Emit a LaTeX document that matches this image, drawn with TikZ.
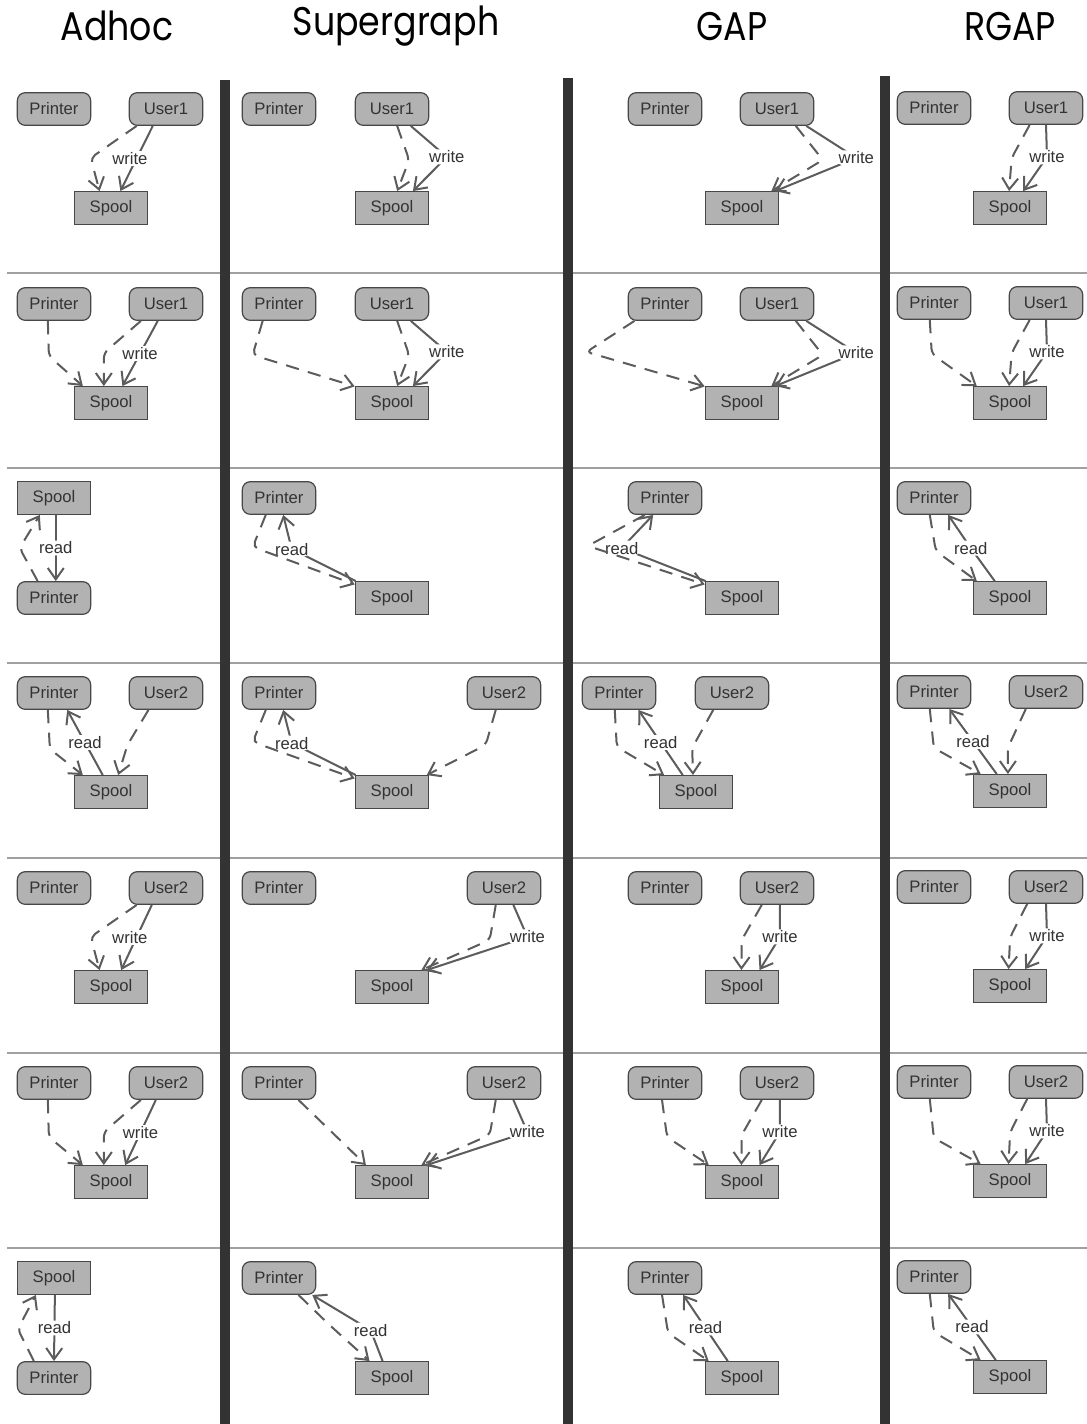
\documentclass[tikz,border=0pt]{standalone}
\usepackage{fontspec}
\setmainfont{Liberation Sans}
\newfontfamily\headfont[FakeStretch=0.87]{Poppins}
\usepackage{tikz}
\usetikzlibrary{arrows.meta}
\definecolor{nodeGray}{RGB}{178,178,178}
\definecolor{edgeGray}{RGB}{92,92,92}
\definecolor{ruleGray}{RGB}{160,160,160}
\definecolor{barDark}{RGB}{51,51,51}

\begin{document}
\begin{tikzpicture}[
  x=0.75pt,y=0.75pt,
  every node/.style={font=\fontsize{12.5}{14}\selectfont,text=black!80},
  proc/.style={draw=black!72,fill=nodeGray,rounded corners=6pt,minimum width=55pt,minimum height=24.5pt,line width=0.9pt,inner sep=0pt},
  buf/.style={proc,sharp corners},
  flow/.style={-{Straight Barb[length=8.5pt,width=12pt]},line width=1.5pt,draw=edgeGray,rounded corners=4pt},
  maybe/.style={flow,dash pattern=on 10pt off 7pt},
  lab/.style={fill=white,inner sep=1pt},
  head/.style={font=\headfont\fontsize{30}{32}\selectfont,text=black,anchor=base},
  rule/.style={draw=ruleGray,line width=1.2pt}
]
  \useasboundingbox (0,0) rectangle (1087,-1424);

  \node[head] (hAd) at (117,-40) {Adhoc};
  \node[head] (hSu) at (396,-36) {Supergraph};
  \node[head] (hGa) at (732,-40) {GAP};
  \node[head] (hRg) at (1010,-40) {RGAP};

  \foreach \y in {273,468,663,858,1053,1248}
    \draw[rule] (7,-\y) -- (1087,-\y);
  \fill[barDark] (220,-80) rectangle (230,-1424);
  \fill[barDark] (563,-78) rectangle (573,-1424);
  \fill[barDark] (880,-76) rectangle (890,-1424);

  % row 1
  \node[proc] (p11) at (54,-109) {Printer};
  \node[proc] (u11) at (166,-109) {User1};
  \node[buf]  (s11) at (111,-208) {Spool};
  \draw[flow] (u11.-128) -- node[lab,xshift=-5pt]{write} (s11.61);
  \draw[maybe] (u11.-150) -- ++(-46,-32) -- (s11.124);

  \node[proc] (p12) at (279,-109) {Printer};
  \node[proc] (u12) at (392,-109) {User1};
  \node[buf]  (s12) at (392,-208) {Spool};
  \draw[flow] (u12.-42) -- ++(36,-31) node[lab]{write} -- (s12.39);
  \draw[maybe] (u12.-73) -- ++(12,-34) -- (s12.73);

  \node[proc] (p13) at (665,-109) {Printer};
  \node[proc] (u13) at (777,-109) {User1};
  \node[buf]  (s13) at (742,-208) {Spool};
  \draw[flow] (u13.-30) -- ++(50,-32) node[lab]{write} -- (s13.27);
  \draw[maybe] (u13.-42) -- ++(27,-34) -- (s13.30);

  \node[proc] (p14) at (934,-108) {Printer};
  \node[proc] (u14) at (1046,-108) {User1};
  \node[buf]  (s14) at (1010,-208) {Spool};
  \draw[flow] (u14.-90) -- ++(1,-32) node[lab]{write} -- (s14.52);
  \draw[maybe] (u14.-134) -- ++(-18,-33) -- (s14.93);

  % row 2
  \node[proc] (p21) at (54,-304) {Printer};
  \node[proc] (u21) at (166,-304) {User1};
  \node[buf]  (s21) at (111,-403) {Spool};
  \draw[flow] (u21.-116) -- node[lab]{write} (s21.56);
  \draw[maybe] (u21.-146) -- ++(-37,-32) -- (s21.113);
  \draw[maybe] (p21.-110) -- ++(1,-35) -- (s21.149);

  \node[proc] (p22) at (279,-304) {Printer};
  \node[proc] (u22) at (392,-304) {User1};
  \node[buf]  (s22) at (392,-403) {Spool};
  \draw[flow] (u22.-42) -- ++(36,-31) node[lab]{write} -- (s22.39);
  \draw[maybe] (u22.-73) -- ++(12,-34) -- (s22.73);
  \draw[maybe] (p22.-134) -- ++(-10,-34) -- (s22.156);

  \node[proc] (p23) at (665,-304) {Printer};
  \node[proc] (u23) at (777,-304) {User1};
  \node[buf]  (s23) at (742,-403) {Spool};
  \draw[flow] (u23.-30) -- ++(50,-32) node[lab]{write} -- (s23.27);
  \draw[maybe] (u23.-42) -- ++(27,-34) -- (s23.30);
  \draw[maybe] (p23.-151) -- ++(-48,-31) -- (s23.156);

  \node[proc] (p24) at (934,-303) {Printer};
  \node[proc] (u24) at (1046,-303) {User1};
  \node[buf]  (s24) at (1010,-403) {Spool};
  \draw[flow] (u24.-90) -- ++(1,-32) node[lab]{write} -- (s24.52);
  \draw[maybe] (u24.-134) -- ++(-18,-33) -- (s24.93);
  \draw[maybe] (p24.-104) -- ++(2,-34) -- (s24.153);

  % row 3
  \node[buf]  (s31) at (54,-498) {Spool};
  \node[proc] (p31) at (54,-598) {Printer};
  \draw[flow] (s31.-84) -- node[lab]{read} (p31.84);
  \draw[maybe] (p31.134) -- ++(-18,33) -- (s31.-130);

  \node[proc] (p32) at (279,-498) {Printer};
  \node[buf]  (s32) at (392,-598) {Spool};
  \draw[flow] (s32.155) -- ++(-64,32) node[lab]{read} -- (p32.-76);
  \draw[maybe] (p32.-128) -- ++(-13,-32) -- (s32.160);

  \node[proc] (p33) at (665,-498) {Printer};
  \node[buf]  (s33) at (742,-598) {Spool};
  \draw[flow] (s33.155) -- ++(-84,33) node[lab]{read} -- (p33.-125);
  \draw[maybe] (p33.-140) -- ++(-57,-31) -- (s33.160);

  \node[proc] (p34) at (934,-498) {Printer};
  \node[buf]  (s34) at (1010,-598) {Spool};
  \draw[flow] (s34.132) -- ++(-24,33) node[lab]{read} -- (p34.-50);
  \draw[maybe] (p34.-104) -- ++(6,-36) -- (s34.153);

  % row 4
  \node[proc] (p41) at (54,-693) {Printer};
  \node[proc] (u41) at (166,-693) {User2};
  \node[buf]  (s41) at (111,-792) {Spool};
  \draw[flow] (s41.116) -- node[lab]{read} (p41.-52);
  \draw[maybe] (p41.-110) -- ++(2,-39) -- (s41.149);
  \draw[maybe] (u41.-136) -- ++(-21,-35) -- (s41.67);

  \node[proc] (p42) at (279,-693) {Printer};
  \node[proc] (u42) at (504,-693) {User2};
  \node[buf]  (s42) at (392,-792) {Spool};
  \draw[flow] (s42.155) -- ++(-64,32) node[lab]{read} -- (p42.-76);
  \draw[maybe] (p42.-128) -- ++(-13,-32) -- (s42.160);
  \draw[maybe] (u42.-116) -- ++(-10,-35) -- (s42.26);

  \node[proc] (p43) at (619,-693) {Printer};
  \node[proc] (u43) at (732,-693) {User2};
  \node[buf]  (s43) at (696,-792) {Spool};
  \draw[flow] (s43.128) -- node[lab]{read} (p43.-41);
  \draw[maybe] (p43.-104) -- ++(2,-37) -- (s43.152);
  \draw[maybe] (u43.-138) -- ++(-21,-38) -- (s43.100);

  \node[proc] (p44) at (934,-692) {Printer};
  \node[proc] (u44) at (1046,-692) {User2};
  \node[buf]  (s44) at (1010,-791) {Spool};
  \draw[flow] (s44.128) -- node[lab]{read} (p44.-48);
  \draw[maybe] (p44.-104) -- ++(4,-39) -- (s44.150);
  \draw[maybe] (u44.-140) -- ++(-18,-39) -- (s44.97);

  % row 5
  \node[proc] (p51) at (54,-888) {Printer};
  \node[proc] (u51) at (166,-888) {User2};
  \node[buf]  (s51) at (111,-987) {Spool};
  \draw[flow] (u51.-130) -- node[lab,xshift=-5pt]{write} (s51.59);
  \draw[maybe] (u51.-150) -- ++(-46,-32) -- (s51.124);

  \node[proc] (p52) at (279,-888) {Printer};
  \node[proc] (u52) at (504,-888) {User2};
  \node[buf]  (s52) at (392,-987) {Spool};
  \draw[flow] (u52.-61) -- ++(14,-32) node[lab]{write} -- (s52.26);
  \draw[maybe] (u52.-116) -- ++(-6,-35) -- (s52.30);

  \node[proc] (p53) at (665,-888) {Printer};
  \node[proc] (u53) at (777,-888) {User2};
  \node[buf]  (s53) at (742,-987) {Spool};
  \draw[flow] (u53.-80) -- ++(0,-32) node[lab]{write} -- (s53.44);
  \draw[maybe] (u53.-132) -- ++(-20,-35) -- (s53.92);

  \node[proc] (p54) at (934,-887) {Printer};
  \node[proc] (u54) at (1046,-887) {User2};
  \node[buf]  (s54) at (1010,-986) {Spool};
  \draw[flow] (u54.-90) -- ++(1,-32) node[lab]{write} -- (s54.48);
  \draw[maybe] (u54.-138) -- ++(-17,-33) -- (s54.95);

  % row 6
  \node[proc] (p61) at (54,-1083) {Printer};
  \node[proc] (u61) at (166,-1083) {User2};
  \node[buf]  (s61) at (111,-1182) {Spool};
  \draw[flow] (u61.-121) -- node[lab]{write} (s61.50);
  \draw[maybe] (u61.-146) -- ++(-37,-32) -- (s61.113);
  \draw[maybe] (p61.-110) -- ++(1,-37) -- (s61.149);

  \node[proc] (p62) at (279,-1083) {Printer};
  \node[proc] (u62) at (504,-1083) {User2};
  \node[buf]  (s62) at (392,-1182) {Spool};
  \draw[flow] (u62.-61) -- ++(14,-32) node[lab]{write} -- (s62.26);
  \draw[maybe] (u62.-116) -- ++(-6,-35) -- (s62.30);
  \draw[maybe] (p62.-41) -- (s62.147);

  \node[proc] (p63) at (665,-1083) {Printer};
  \node[proc] (u63) at (777,-1083) {User2};
  \node[buf]  (s63) at (742,-1182) {Spool};
  \draw[flow] (u63.-80) -- ++(0,-32) node[lab]{write} -- (s63.44);
  \draw[maybe] (u63.-132) -- ++(-20,-35) -- (s63.92);
  \draw[maybe] (p63.-100) -- ++(5,-37) -- (s63.153);

  \node[proc] (p64) at (934,-1082) {Printer};
  \node[proc] (u64) at (1046,-1082) {User2};
  \node[buf]  (s64) at (1010,-1181) {Spool};
  \draw[flow] (u64.-90) -- ++(1,-32) node[lab]{write} -- (s64.48);
  \draw[maybe] (u64.-138) -- ++(-17,-33) -- (s64.95);
  \draw[maybe] (p64.-104) -- ++(4,-39) -- (s64.150);

  % row 7
  \node[buf]  (s71) at (54,-1278) {Spool};
  \node[proc] (p71) at (54,-1378) {Printer};
  \draw[flow] (s71.-87) -- node[lab]{read} (p71.90);
  \draw[maybe] (p71.140) -- ++(-16,32) -- (s71.-137);

  \node[proc] (p72) at (279,-1278) {Printer};
  \node[buf]  (s72) at (392,-1378) {Spool};
  \draw[flow] (s72.119) -- ++(-12,31) node[lab]{read} -- (p72.-27);
  \draw[maybe] (p72.-41) -- ++(31,-30) -- (s72.143);

  \node[proc] (p73) at (665,-1278) {Printer};
  \node[buf]  (s73) at (742,-1378) {Spool};
  \draw[flow] (s73.130) -- node[lab]{read} (p73.-43);
  \draw[maybe] (p73.-100) -- ++(6,-38) -- (s73.153);

  \node[proc] (p74) at (934,-1277) {Printer};
  \node[buf]  (s74) at (1010,-1377) {Spool};
  \draw[flow] (s74.130) -- node[lab]{read} (p74.-50);
  \draw[maybe] (p74.-104) -- ++(4,-38) -- (s74.150);
\end{tikzpicture}
\end{document}
